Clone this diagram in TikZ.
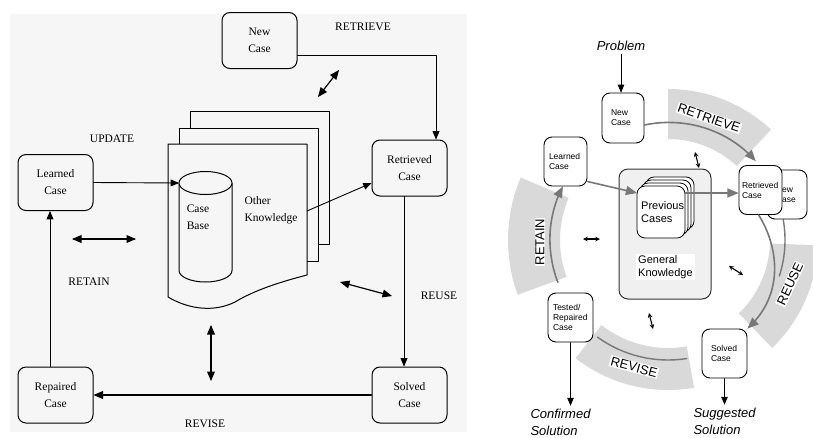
\documentclass[tikz,border=0pt]{standalone}
\usepackage{fontspec}
\setmainfont{Liberation Serif}
\newfontfamily\arialfont{Liberation Sans}
\usetikzlibrary{arrows}
\definecolor{fsfsfs}{rgb}{0.965,0.965,0.965}
\definecolor{dcdcdc}{rgb}{0.85,0.85,0.85}
\definecolor{wvwvwv}{rgb}{0.47,0.47,0.47}
\definecolor{eeeeee}{rgb}{0.94,0.94,0.94}
\definecolor{sqsqsq}{rgb}{0.2,0.2,0.2}
\begin{document}
\begin{tikzpicture}[line cap=round,line join=round,>=triangle 45,x=1pt,y=-1pt,
  lbox/.style={draw,fill=fsfsfs,rounded corners=8pt,line width=1pt,minimum width=75pt,minimum height=56pt,align=center,font=\fontsize{11.5}{17}\selectfont},
  ltext/.style={font=\fontsize{11.5}{17}\selectfont},
  rbox/.style={draw,fill=white,rounded corners=8pt,line width=0.9pt,minimum height=49pt,align=left,font=\arialfont\fontsize{8.5}{10}\selectfont},
  band/.style={fill=dcdcdc},
  tag/.style={fill=white,inner sep=1pt,font=\arialfont\fontsize{13}{15}\selectfont},
  itext/.style={align=left,font=\arialfont\itshape\fontsize{13}{17}\selectfont},
  garrow/.style={color=wvwvwv,line width=1.6pt,->},
  dblarrow/.style={<->,>=stealth,line width=1.1pt}]
\clip(0,0) rectangle (813,437);
\fill[color=fsfsfs] (10,14) rectangle (467,432);
\draw[line width=1pt,fill=fsfsfs] (190,111) rectangle (329,244);
\draw[line width=1pt,fill=fsfsfs] (179,128) rectangle (318,261);
\draw[line width=1pt,fill=fsfsfs] (168,144) -- (307,144) -- (307,275) .. controls (280,282) and (255,290) .. (235,302) .. controls (215,312) and (190,310) .. (168,297) -- cycle;
\draw[line width=1pt,fill=fsfsfs] (179,183) -- (179,270.5) arc[start angle=180,end angle=0,x radius=26.5,y radius=11.5] -- (232,183);
\draw[line width=1pt,fill=fsfsfs] (205.5,183) ellipse [x radius=26.5,y radius=11.5];
\node[ltext,align=center] (cbase) at (198,217) {Case\\Base};
\node[ltext,anchor=west,align=left] (other) at (241,210) {Other\\Knowledge};
\node[lbox] (newcase) at (259.5,40.5) {New\\Case};
\node[lbox] (retcase) at (409.5,168) {Retrieved\\Case};
\node[lbox] (learned) at (55.5,182.5) {Learned\\Case};
\node[lbox] (repaired) at (55.5,395) {Repaired\\Case};
\node[lbox] (solved) at (409.5,395) {Solved\\Case};
\coordinate (cbin) at (179,183);
\coordinate (okout) at (307,211);
\draw[->,line width=0.9pt] ([yshift=-14.5pt]newcase.east) -| ([xshift=26.5pt]retcase.north);
\draw[->,line width=0.9pt] (learned.east) -- (cbin);
\draw[->,line width=0.9pt] (okout) -- ([yshift=-15pt]retcase.west);
\draw[->,line width=0.9pt] ([xshift=-5.5pt]retcase.south) -- ([xshift=-5.5pt]solved.north);
\draw[->,line width=1.2pt] (solved.west) -- (repaired.east);
\draw[->,line width=0.9pt] ([xshift=-5.5pt]repaired.north) -- ([xshift=-5.5pt]learned.south);
\coordinate (la1) at (318,97);
\coordinate (la2) at (339,70);
\coordinate (lb1) at (72,239);
\coordinate (lb2) at (136,239);
\coordinate (lc1) at (340,282);
\coordinate (lc2) at (392,296);
\coordinate (ld1) at (211,325);
\coordinate (ld2) at (211,381);
\draw[<->,line width=1.2pt] (la1) -- (la2);
\draw[<->,line width=1.2pt] (lb1) -- (lb2);
\draw[<->,line width=1.2pt] (lc1) -- (lc2);
\draw[<->,line width=1.2pt] (ld1) -- (ld2);
\node[ltext] (lretrieve) at (363,27) {RETRIEVE};
\node[ltext] (lupdate) at (112,139) {UPDATE};
\node[ltext] (lretain) at (89,282) {RETAIN};
\node[ltext] (lreuse) at (439,296) {REUSE};
\node[ltext] (lrevise) at (205,424) {REVISE};
\begin{scope}[shift={(668,240)}]
\fill[band] (-47:101) arc[start angle=-47,end angle=-90,radius=101] -- (-90:151) arc[start angle=-90,end angle=-47,radius=151] -- cycle;
\fill[band] (-157:108) arc[start angle=-157,end angle=-200,radius=108] -- (-200:160) arc[start angle=-200,end angle=-157,radius=160] -- cycle;
\fill[band] (46:102) arc[start angle=46,end angle=2,radius=102] -- (2:150) arc[start angle=2,end angle=46,radius=150] -- cycle;
\fill[band] (-232:108) arc[start angle=-232,end angle=-280,radius=108] -- (-280:150) arc[start angle=-280,end angle=-232,radius=150] -- cycle;
\draw[color=wvwvwv,line width=1.4pt] (-234:120) arc[start angle=-234,end angle=-279,radius=120];
\draw[color=wvwvwv,line width=1.4pt] (-10:117) arc[start angle=-10,end angle=18,radius=117];
\draw[garrow] (-201:118) arc[start angle=-201,end angle=-153,radius=118];
\end{scope}
\node[draw=sqsqsq,fill=eeeeee,line width=1pt,rounded corners=9pt,minimum width=92pt,minimum height=130pt] (gk) at (665,234) {};
\foreach \k in {3,2,1,0}
  \draw[fill=white,line width=0.8pt,rounded corners=8pt] ({637+3*\k},{186-3*\k}) rectangle ({685+3*\k},{238-3*\k});
\node[anchor=west,align=left,inner sep=2pt,font=\arialfont\fontsize{11}{13}\selectfont] (prev) at (639,212.5) {Previous\\Cases};
\node[fill=white,anchor=west,align=left,inner sep=2pt,font=\arialfont\fontsize{11}{12.5}\selectfont] (gkl) at (636,267) {General\\Knowledge};
\node[itext] (pb) at (621,46) {Problem};
\node[rbox,text width=24pt,inner xsep=9pt,minimum height=50pt] (newc) at (623,118) {New\\Case};
\node[rbox,text width=33pt,inner xsep=5pt] (lrn) at (565.5,161.5) {Learned\\Case};
\node[rbox,text width=22pt,inner xsep=9pt] (newb) at (787,194.5) {New\\Case};
\node[rbox,text width=37pt,inner xsep=3pt] (retr) at (760.5,190) {Retrieved\\Case};
\node[rbox,text width=35pt,inner xsep=5pt] (tested) at (570.5,317.5) {Tested/\\Repaired\\Case};
\node[rbox,text width=27pt,inner xsep=9pt] (solv) at (724.5,353.5) {Solved\\Case};
\node[itext,anchor=west] (cs) at (527,422.5) {Confirmed\\Solution};
\node[itext,anchor=west] (ss) at (690,421.5) {Suggested\\Solution};
\coordinate (pcin) at (637,193);
\coordinate (pcout) at (685,193);
\draw[->,line width=0.8pt] (pb.south) -- (pb.south |- newc.north);
\draw[->,line width=0.8pt] (tested.south) -- (tested.south |- cs.north);
\draw[->,line width=0.8pt] (solv.south) -- (solv.south |- ss.north);
\draw[garrow] ([yshift=-7pt]newc.east) arc[start angle=-102,end angle=-42,radius=117];
\draw[garrow] ([xshift=-2pt]retr.south) .. controls (775,240) and (788,290) .. (solv.north east);
\draw[garrow] ([yshift=-20pt]lrn.east) -- (pcin);
\draw[garrow] (pcout) -- (pcout -| retr.west);
\node[tag,rotate=-19] (tretrieve) at (709,118) {RETRIEVE};
\node[tag,rotate=90] (tretain) at (540,242) {RETAIN};
\node[tag,rotate=65] (treuse) at (790,284) {REUSE};
\node[tag,rotate=-15] (trevise) at (634,367) {REVISE};
\coordinate (ra1) at (695,152);
\coordinate (ra2) at (699,168);
\coordinate (rb1) at (583,239);
\coordinate (rb2) at (600,239);
\coordinate (rc1) at (729,266);
\coordinate (rc2) at (743,275);
\coordinate (rd1) at (649,313);
\coordinate (rd2) at (653,329);
\draw[dblarrow] (ra1) -- (ra2);
\draw[dblarrow] (rb1) -- (rb2);
\draw[dblarrow] (rc1) -- (rc2);
\draw[dblarrow] (rd1) -- (rd2);
\end{tikzpicture}
\end{document}
